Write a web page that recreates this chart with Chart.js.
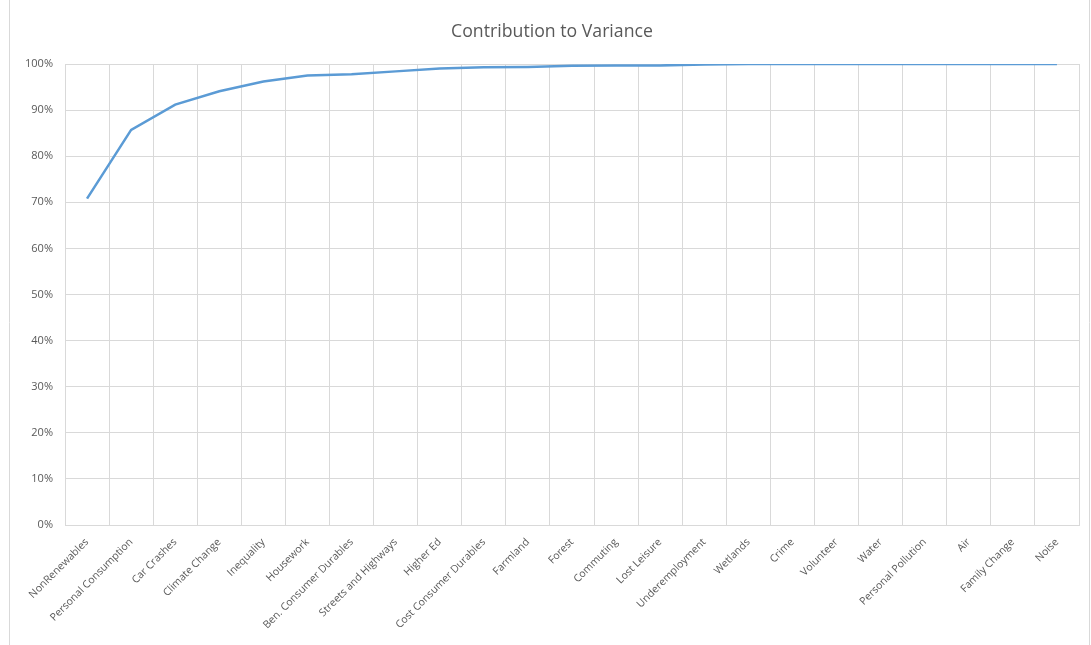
<!DOCTYPE html>
<html>
<head>
<meta charset="utf-8">
<script src="https://cdn.jsdelivr.net/npm/chart.js@4/dist/chart.umd.min.js"></script>
<style>
    html, body { margin: 0; padding: 0; background: #fff; }
    #wrap { width: 1091px; height: 645px; position: relative; }
</style>
</head>
<body>
<div id="wrap"><canvas id="chart" width="1091" height="645"></canvas></div>
<script>
// Categories and cumulative contribution (%)
const categories = ['NonRenewables', 'Personal Consumption', 'Car Crashes', 'Climate Change', 'Inequality',
    'Housework', 'Ben. Consumer Durables', 'Streets and Highways', 'Higher Ed', 'Cost Consumer Durables',
    'Farmland', 'Forest', 'Commuting', 'Lost Leisure', 'Underemployment', 'Wetlands', 'Crime',
    'Volunteer', 'Water', 'Personal Pollution', 'Air', 'Family Change', 'Noise'];
const cumulative = [70.8, 85.7, 91.2, 94.1, 96.2, 97.5, 97.8, 98.4, 99.0, 99.3,
    99.35, 99.6, 99.65, 99.7, 99.9, 100, 100, 100, 100, 100, 100, 100, 100];
const yTicks = [0, 10, 20, 30, 40, 50, 60, 70, 80, 90, 100];
const chartTitle = 'Contribution to Variance';

const gridColor = '#d9d9d9';
const textColor = '#595959';

// Excel-like outer frame and title, centered on the frame
const framePlugin = {
    id: 'frame',
    beforeDraw(chart) {
        const ctx = chart.ctx;
        ctx.save();
        ctx.strokeStyle = '#d9d9d9';
        ctx.lineWidth = 1;
        ctx.beginPath();
        ctx.moveTo(9.5, 0);
        ctx.lineTo(9.5, 645);
        ctx.moveTo(1089.5, 0);
        ctx.lineTo(1089.5, 645);
        ctx.stroke();

        ctx.fillStyle = textColor;
        ctx.font = '17.7px "Open Sans"';
        ctx.textAlign = 'center';
        ctx.textBaseline = 'middle';
        ctx.fillText(chartTitle, 552, 32);
        ctx.restore();
    }
};

new Chart(document.getElementById('chart'), {
    type: 'line',
    data: {
        labels: categories,
        datasets: [{
            label: chartTitle,
            data: cumulative,
            borderColor: '#5b9bd5',
            borderWidth: 2.5,
            pointRadius: 0,
            tension: 0,
            fill: false
        }]
    },
    options: {
        responsive: false,
        animation: false,
        layout: { padding: { left: 10, right: 12, top: 64, bottom: 0 } },
        plugins: {
            legend: { display: false },
            tooltip: { enabled: false },
            title: { display: false }
        },
        scales: {
            x: {
                offset: true,
                grid: { color: gridColor, offset: true, drawTicks: false },
                border: { color: gridColor },
                ticks: {
                    color: textColor,
                    font: { family: 'Open Sans', size: 10.5 },
                    maxRotation: 45,
                    minRotation: 45,
                    autoSkip: false,
                    padding: 11
                },
                afterFit(scale) { scale.height = 120; }
            },
            y: {
                min: 0,
                max: 100,
                grid: { color: gridColor, drawTicks: false },
                border: { display: false },
                afterBuildTicks(scale) { scale.ticks = yTicks.map(v => ({ value: v })); },
                ticks: {
                    color: textColor,
                    font: { family: 'Open Sans', size: 11 },
                    padding: 12,
                    callback: v => v + '%'
                },
                afterFit(scale) { scale.width = 55; }
            }
        }
    },
    plugins: [framePlugin]
});
</script>
</body>
</html>
